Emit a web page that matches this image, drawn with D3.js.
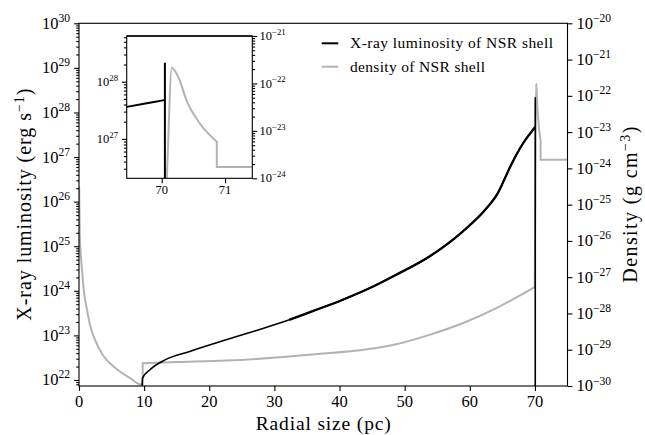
<!DOCTYPE html>
<html>
<head>
<meta charset="utf-8">
<script src="https://cdn.jsdelivr.net/npm/d3@7"></script>
<style>
body { margin: 0; background: #fff; }
svg text { font-family: "Liberation Serif", "DejaVu Serif", serif; fill: #000; }
</style>
</head>
<body>
<svg width="645" height="435"></svg>
<script>
// X-ray luminosity of the shell: radius (pc) and log10 L (erg/s)
let lumR   = [9.70, 9.75, 10.9, 13.2, 17.0, 22.6, 27.0, 32.3, 36.0, 40.5, 44.5, 48.7, 53.8, 58.9, 62.5, 64.3, 65.5, 66.2, 67.6, 68.8, 69.45, 69.9, 70.05];
let lumLog = [21.87, 22.04, 22.23, 22.45, 22.64, 22.90, 23.10, 23.35, 23.55, 23.80, 24.05, 24.36, 24.77, 25.33, 25.84, 26.19, 26.56, 26.78, 27.17, 27.44, 27.56, 27.65, 27.68];
// spike at the shell edge, then it drops off the log axis
let spikeR   = [70.05, 70.05];
let spikeLog = [28.33, 15];

// density (log10 g/cm^3): inner bubble, swept-up shell, dense edge, ambient medium
let densInnerR   = [0.02, 0.12, 0.25, 0.46, 0.77, 1.23, 1.69, 2.46, 3.68, 5.53, 7.83, 9.52, 9.78];
let densInnerLog = [-24.5, -25.8, -26.3, -26.8, -27.41, -27.90, -28.32, -28.73, -29.15, -29.50, -29.78, -29.96, -29.96];
let densShellR   = [9.78, 15.0, 22.6, 35.3, 48.7, 53.8, 58.9, 64.0, 69.9];
let densShellLog = [-29.37, -29.34, -29.30, -29.14, -28.85, -28.59, -28.27, -27.86, -27.28];
let densEdgeR    = [69.97, 70.08, 70.16, 70.20, 70.27, 70.39, 70.60, 70.87];
let densEdgeLog  = [-27.25, -24.0, -21.67, -21.72, -21.89, -22.35, -22.84, -23.23];
let densOuterR   = [70.87, 75.0];
let densOuterLog = [-23.76, -23.76];

let xTicks = [0, 10, 20, 30, 40, 50, 60, 70];
let lumTicks = [22, 23, 24, 25, 26, 27, 28, 29, 30];
let densTicks = [-30, -29, -28, -27, -26, -25, -24, -23, -22, -21, -20];
let insetXTicks = [70, 71];
let insetLumTicks = [27, 28];
let insetDensTicks = [-24, -23, -22, -21];
let legendLabels = ["X-ray luminosity of NSR shell", "density of NSR shell"];

let svg = d3.select("svg");
let lumColor = "#000", densColor = "#b3b3b3";
let majLen = 4.9, minLen = 2.8;

// main axes box
let L = 79, R = 567.5, T = 23.3, B = 386;
let x = d3.scaleLinear().domain([0, 75]).range([L, R]);
let yL = d3.scaleLog().domain([Math.pow(10, 21.865), 1e30]).range([B, T]);
let yR = d3.scaleLog().domain([1e-30, 1e-20]).range([B, T]);

// inset box
let iL = 126.7, iR = 252.3, iT = 36, iB = 178.3;
let xi = d3.scaleLinear().domain([69.447, 71.43]).range([iL, iR]);
let yLi = d3.scaleLog().domain([Math.pow(10, 26.31), Math.pow(10, 28.80)]).range([iB, iT]);
let yRi = d3.scaleLog().domain([1e-24, 1e-21]).range([iB, iT]);

let zip = (rs, ls) => rs.map((r, i) => [r, ls[i]]);
let lumRuns = [zip(lumR, lumLog), zip(spikeR, spikeLog)];
let densRuns = [zip(densInnerR, densInnerLog), zip(densShellR, densShellLog),
                zip(densEdgeR, densEdgeLog), zip(densOuterR, densOuterLog)];

// each run is smoothed on its own, runs are joined by straight segments
function runsPath(runs, xs, ys) {
  let gen = d3.line().x(d => xs(d[0])).y(d => ys(Math.pow(10, d[1]))).curve(d3.curveMonotoneX);
  return runs.map((run, k) => {
    let s = gen(run).replace(/Z/g, "");
    return k === 0 ? s : "L" + s.slice(1);
  }).join("");
}

function minorTicks(lo, hi) {
  let out = [];
  for (let e = Math.floor(lo); e <= Math.ceil(hi); e++) {
    for (let m = 2; m <= 9; m++) {
      let v = Math.log10(m) + e;
      if (v >= lo && v <= hi) out.push(Math.pow(10, v));
    }
  }
  return out;
}

function expLabel(g, px, py, exp, size, anchor) {
  let t = g.append("text")
    .attr("x", px).attr("y", py + 0.33 * size)
    .attr("text-anchor", anchor)
    .style("font-size", size + "px");
  t.append("tspan").text("10");
  t.append("tspan")
    .attr("dy", -0.42 * size)
    .style("font-size", (size * 0.7) + "px")
    .text(exp < 0 ? "\u2212" + (-exp) : exp);
}

function drawTicks(g, axisFn, scale, values, len, tx, ty) {
  let a = g.append("g")
    .attr("transform", "translate(" + tx + "," + ty + ")")
    .call(axisFn(scale).tickValues(values).tickSize(len).tickFormat(""));
  a.select(".domain").remove();
  a.selectAll("line").attr("stroke", "#000").attr("stroke-width", 1.1);
}

svg.append("clipPath").attr("id", "clipMain")
  .append("rect").attr("x", L).attr("y", T).attr("width", R - L).attr("height", B - T);
svg.append("clipPath").attr("id", "clipInset")
  .append("rect").attr("x", iL).attr("y", iT).attr("width", iR - iL).attr("height", iB - iT);

// ---- main plot ----
let gMain = svg.append("g").attr("clip-path", "url(#clipMain)");

gMain.append("path")
  .attr("fill", "none").attr("stroke", densColor).attr("stroke-width", 2)
  .attr("d", runsPath(densRuns, x, yR));
gMain.append("path")
  .attr("fill", "none").attr("stroke", lumColor).attr("stroke-width", 1.6)
  .attr("stroke-linejoin", "round")
  .attr("d", runsPath(lumRuns, x, yL));
// the outer part of the curve is drawn a little heavier in the original
gMain.append("path")
  .attr("fill", "none").attr("stroke", lumColor).attr("stroke-width", 2.3)
  .attr("d", runsPath([lumRuns[0].filter(d => d[0] >= 32.3)], x, yL));

// main spines
svg.append("rect").attr("x", L).attr("y", T).attr("width", R - L).attr("height", B - T)
  .attr("fill", "none").attr("stroke", "#000").attr("stroke-width", 1.1);

drawTicks(svg, d3.axisBottom, x, xTicks, majLen, 0, B);
drawTicks(svg, d3.axisLeft, yL, lumTicks.map(e => Math.pow(10, e)), majLen, L, 0);
drawTicks(svg, d3.axisLeft, yL, minorTicks(21.865, 30), minLen, L, 0);
drawTicks(svg, d3.axisRight, yR, densTicks.map(e => Math.pow(10, e)), majLen, R, 0);

let gLab = svg.append("g");
xTicks.forEach(v => {
  gLab.append("text").attr("x", x(v)).attr("y", 407)
    .attr("text-anchor", "middle").style("font-size", "16.5px").text(v);
});
lumTicks.forEach(e => expLabel(gLab, 70, yL(Math.pow(10, e)), e, 16.5, "end"));
densTicks.forEach(e => expLabel(gLab, 576.5, yR(Math.pow(10, e)), e, 16.5, "start"));

// axis titles
gLab.append("text").attr("x", (L + R) / 2).attr("y", 429.5)
  .attr("text-anchor", "middle").style("font-size", "19.5px")
  .attr("textLength", 135).attr("lengthAdjust", "spacing")
  .text("Radial size (pc)");

let yt = gLab.append("text").attr("transform", "translate(31," + ((T + B) / 2) + ") rotate(-90)")
  .attr("text-anchor", "middle").style("font-size", "20px")
  .attr("textLength", 232).attr("lengthAdjust", "spacing");
yt.append("tspan").text("X-ray luminosity (erg s");
yt.append("tspan").attr("dy", -7.5).style("font-size", "14px").text("\u22121");
yt.append("tspan").attr("dy", 7.5).text(")");

let rt = gLab.append("text").attr("transform", "translate(637," + ((T + B) / 2) + ") rotate(-90)")
  .attr("text-anchor", "middle").style("font-size", "20px")
  .attr("textLength", 156).attr("lengthAdjust", "spacing");
rt.append("tspan").text("Density (g cm");
rt.append("tspan").attr("dy", -7.5).style("font-size", "14px").text("\u22123");
rt.append("tspan").attr("dy", 7.5).text(")");

// legend
let legColors = [lumColor, densColor];
let legWidths = [203, 135];
legendLabels.forEach((lab, i) => {
  let ly = 43.3 + i * 23.4;
  gLab.append("line").attr("x1", 321.7).attr("x2", 338.3).attr("y1", ly).attr("y2", ly)
    .attr("stroke", legColors[i]).attr("stroke-width", 2);
  gLab.append("text").attr("x", 350).attr("y", ly + 5)
    .style("font-size", "15.5px")
    .attr("textLength", legWidths[i]).attr("lengthAdjust", "spacing")
    .text(lab);
});

// ---- inset ----
svg.append("rect").attr("x", iL).attr("y", iT).attr("width", iR - iL).attr("height", iB - iT)
  .attr("fill", "#fff");
let gIn = svg.append("g").attr("clip-path", "url(#clipInset)");
gIn.append("path")
  .attr("fill", "none").attr("stroke", densColor).attr("stroke-width", 2)
  .attr("d", runsPath(densRuns, xi, yRi));
gIn.append("path")
  .attr("fill", "none").attr("stroke", lumColor).attr("stroke-width", 2)
  .attr("d", runsPath(lumRuns, xi, yLi));

svg.append("rect").attr("x", iL).attr("y", iT).attr("width", iR - iL).attr("height", iB - iT)
  .attr("fill", "none").attr("stroke", "#000").attr("stroke-width", 1.1);
svg.append("line").attr("x1", iL).attr("x2", iR).attr("y1", iT).attr("y2", iT)
  .attr("stroke", "#222").attr("stroke-width", 1.8);

drawTicks(svg, d3.axisBottom, xi, insetXTicks, majLen, 0, iB);
drawTicks(svg, d3.axisLeft, yLi, insetLumTicks.map(e => Math.pow(10, e)), majLen, iL, 0);
drawTicks(svg, d3.axisLeft, yLi, minorTicks(26.31, 28.80), minLen, iL, 0);
drawTicks(svg, d3.axisRight, yRi, insetDensTicks.map(e => Math.pow(10, e)), majLen, iR, 0);
drawTicks(svg, d3.axisRight, yRi, minorTicks(-24, -21), minLen, iR, 0);

insetXTicks.forEach(v => {
  gLab.append("text").attr("x", xi(v)).attr("y", 194)
    .attr("text-anchor", "middle").style("font-size", "12.5px").text(v);
});
insetLumTicks.forEach(e => expLabel(gLab, 118, yLi(Math.pow(10, e)), e, 12.5, "end"));
insetDensTicks.forEach(e => expLabel(gLab, 259.5, yRi(Math.pow(10, e)), e, 12.5, "start"));
</script>
</body>
</html>
